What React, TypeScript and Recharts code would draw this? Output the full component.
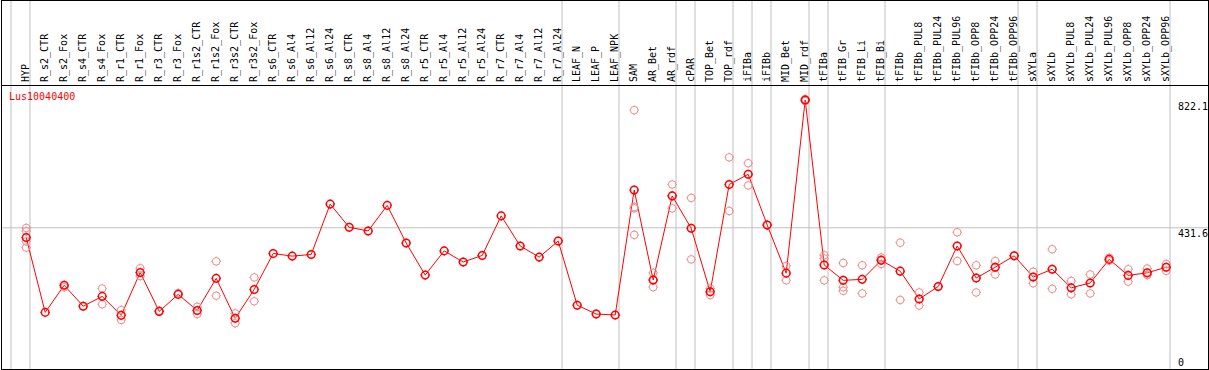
import React from "react";
import {
	ComposedChart,
	Line,
	ReferenceLine,
	Scatter,
	XAxis,
	YAxis,
} from "recharts";

const GENE = "Lus10040400";

const CATEGORIES = [
	"HYP", "R_s2_CTR", "R_s2_Fox", "R_s4_CTR", "R_s4_Fox", "R_r1_CTR", "R_r1_Fox",
	"R_r3_CTR", "R_r3_Fox", "R_r1s2_CTR", "R_r1s2_Fox", "R_r3s2_CTR", "R_r3s2_Fox",
	"R_s6_CTR", "R_s6_Al4", "R_s6_Al12", "R_s6_Al24", "R_s8_CTR", "R_s8_Al4",
	"R_s8_Al12", "R_s8_Al24", "R_r5_CTR", "R_r5_Al4", "R_r5_Al12", "R_r5_Al24",
	"R_r7_CTR", "R_r7_Al4", "R_r7_Al12", "R_r7_Al24", "LEAF_N", "LEAF_P", "LEAF_NPK",
	"SAM", "AR_Bet", "AR_rdf", "cPAR", "TOP_Bet", "TOP_rdf", "iFIBa", "iFIBb",
	"MID_Bet", "MID_rdf", "tFIBa", "tFIB_Gr", "tFIB_Li", "tFIB_Bi", "tFIBb",
	"tFIBb_PUL8", "tFIBb_PUL24", "tFIBb_PUL96", "tFIBb_OPP8", "tFIBb_OPP24",
	"tFIBb_OPP96", "sXYLa", "sXYLb", "sXYLb_PUL8", "sXYLb_PUL24", "sXYLb_PUL96",
	"sXYLb_OPP8", "sXYLb_OPP24", "sXYLb_OPP96",
];

// mean expression per sample
const MEANS = [
	402, 173, 256, 192, 222, 164, 295, 176, 228, 179,
	277, 155, 243, 353, 345, 350, 504, 433, 422, 500,
	385, 287, 361, 327, 347, 468, 376, 342, 391, 195,
	168, 165, 547, 272, 529, 430, 236, 564, 595, 440,
	293, 822.1, 318, 271, 274, 332, 299, 214, 252, 376,
	278, 311, 346, 281, 305, 248, 263, 335, 286, 294, 311,
];

// individual replicates (light circles)
const REPLICATES: number[][] = [
	[431, 421, 390, 371], [], [250], [], [246, 198], [180, 150], [308, 284],
	[178], [232], [190, 168], [329, 224], [170, 140], [280, 207],
	[], [], [], [], [], [], [], [], [], [], [], [], [], [], [], [], [], [], [],
	[791, 495, 491, 410], [294, 272, 250], [564, 530, 491], [523, 335],
	[246, 226], [647, 483], [629, 561], [440], [315, 271], [825, 819],
	[348, 338, 271], [324, 250, 239], [317, 231], [341, 335, 321], [386, 211],
	[234, 194], [252], [418, 330], [317, 234], [330, 289], [346],
	[297, 262], [366, 245], [269, 228], [289, 231], [340, 331], [305, 267],
	[307, 288, 288], [321, 300],
];

// number of samples in each tissue group, separated by grey lines
const GROUP_SIZES = [1, 28, 3, 3, 1, 2, 1, 1, 2, 1, 3, 7, 1, 7];

const Y_TICKS = [0, 431.6, 822.1];

const RED = "#ff0000";
const PINK = "#f08c8c";
const GRID = "#c0c0c0";
const MONO = "'DejaVu Sans Mono', monospace";

const lineData = MEANS.map((v, i) => ({ x: i, mean: v }));
const repData = REPLICATES.flatMap((vals, i) => vals.map((v) => ({ x: i, y: v })));

// columns are a bit offset: the point sits near the right side of its cell
const CELL_SHIFT = 0.8;
const borders: number[] = [];
GROUP_SIZES.reduce((acc, n) => {
	borders.push(acc - CELL_SHIFT);
	return acc + n;
}, 0);
borders.push(CATEGORIES.length - CELL_SHIFT);

function Ring({ cx, cy, color, width }: any) {
	if (cx == null || cy == null) return <g />;
	const r = 3.8;
	return (
		<g>
			<circle cx={cx} cy={cy} r={r} fill="none" stroke={color} strokeWidth={width} />
			<line x1={cx} x2={cx} y1={cy - r - 1} y2={cy - r} stroke={color} />
			<line x1={cx} x2={cx} y1={cy + r} y2={cy + r + 1} stroke={color} />
			<line x1={cx - r - 1} x2={cx - r} y1={cy} y2={cy} stroke={color} />
			<line x1={cx + r} x2={cx + r + 1} y1={cy} y2={cy} stroke={color} />
		</g>
	);
}

function SampleTick({ x, y, payload }: any) {
	return (
		<text
			transform={`translate(${x + 3},${y + 5}) rotate(-90)`}
			fontFamily={MONO}
			fontSize={10}
			fill="#000"
			textAnchor="start"
		>
			{CATEGORIES[payload.value]}
		</text>
	);
}

function ValueTick({ x, y, payload }: any) {
	return (
		<text
			x={x}
			y={Math.min(y + 9.5, 366)}
			fontFamily={MONO}
			fontSize={10}
			fill="#000"
			textAnchor="start"
		>
			{payload.value}
		</text>
	);
}

export default function App() {
	return (
		<div style={{ position: "absolute", left: 0, top: 0, width: 1209, height: 370 }}>
			<ComposedChart
				width={1209}
				height={370}
				data={lineData}
				margin={{ top: 0, right: 2, bottom: 1, left: 11 }}
			>
				<XAxis
					xAxisId={0}
					dataKey="x"
					type="number"
					orientation="top"
					height={85}
					domain={[-CELL_SHIFT, CATEGORIES.length - CELL_SHIFT]}
					ticks={CATEGORIES.map((_, i) => i)}
					interval={0}
					axisLine={false}
					tickLine={false}
					tick={<SampleTick />}
				/>
				<YAxis
					yAxisId={0}
					type="number"
					orientation="right"
					width={37}
					domain={[0, 868]}
					ticks={Y_TICKS}
					interval={0}
					axisLine={false}
					tickLine={false}
					tick={<ValueTick />}
				/>
				{borders.map((b) => (
					<ReferenceLine
						key={b}
						x={b}
						shape={(p: any) => (
							<line
								x1={p.x1}
								x2={p.x2}
								y1={0}
								y2={Math.max(p.y1, p.y2)}
								stroke={GRID}
								strokeWidth={1}
							/>
						)}
					/>
				))}
				<ReferenceLine
					y={431.6}
					shape={(p: any) => (
						<line x1={1} x2={1208} y1={p.y1} y2={p.y2} stroke={GRID} strokeWidth={1} />
					)}
				/>
				<Scatter
					data={repData}
					dataKey="y"
					isAnimationActive={false}
					shape={(p: any) => <Ring cx={p.cx} cy={p.cy} color={PINK} width={1} />}
				/>
				<Line
					type="linear"
					dataKey="mean"
					stroke={RED}
					strokeWidth={1}
					isAnimationActive={false}
					activeDot={false}
					dot={(p: any) => (
						<Ring key={`m${p.index}`} cx={p.cx} cy={p.cy} color={RED} width={1.5} />
					)}
				/>
			</ComposedChart>
			{/* frame and header separator */}
			<div
				style={{
					position: "absolute",
					left: 1,
					top: 0,
					width: 1208,
					height: 370,
					boxSizing: "border-box",
					border: "1px solid #000",
					pointerEvents: "none",
				}}
			/>
			<div
				style={{
					position: "absolute",
					left: 1,
					top: 85,
					width: 1208,
					height: 1,
					background: "#000",
				}}
			/>
			<div
				style={{
					position: "absolute",
					left: 9,
					top: 92,
					fontFamily: MONO,
					fontSize: 10,
					lineHeight: "10px",
					color: RED,
				}}
			>
				{GENE}
			</div>
		</div>
	);
}
